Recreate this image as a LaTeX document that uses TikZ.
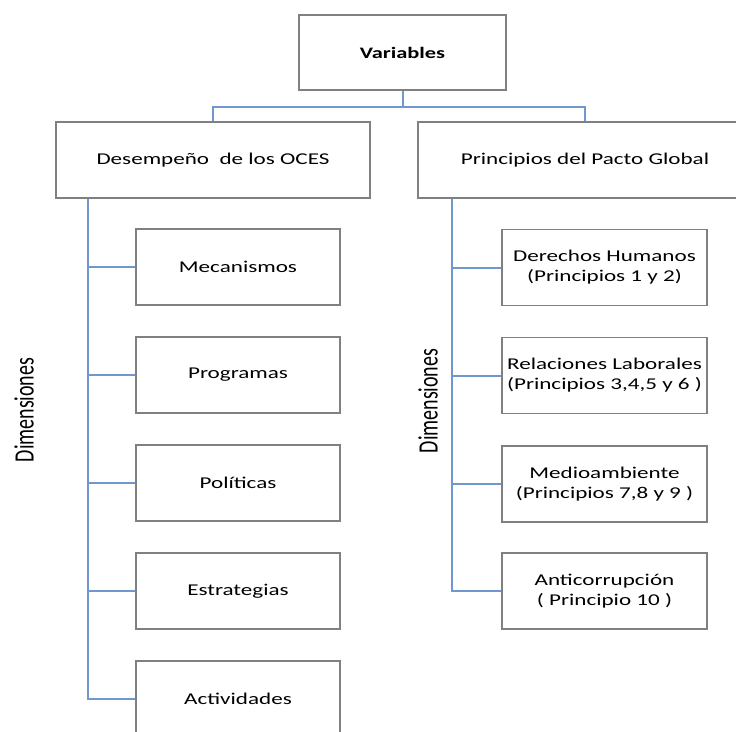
\documentclass[tikz,border=0pt]{standalone}
\usepackage{fontspec}
\setmainfont[FakeStretch=1.4]{Carlito}
\newfontfamily\dimfont{Carlito}
\usepackage{tikz}
\definecolor{lienbleu}{RGB}{112,152,206}
\definecolor{bord}{RGB}{128,128,128}

\begin{document}
\begin{tikzpicture}[x=1pt,y=-1pt]
\tikzstyle{lien}=[draw=lienbleu,line width=2pt]
\tikzset{boite/.style={draw=bord,line width=1.2pt,fill=white,align=center,
minimum height=76pt,font=\fontsize{16.5}{20}\selectfont,inner sep=0pt},
boite/.default={},
dim/.style={rotate=90,font=\dimfont\fontsize{20}{24}\selectfont}}
\useasboundingbox (0,0) rectangle (736,731);
\clip (0,0) rectangle (736,731);
\node[boite,minimum width=207pt,minimum height=75pt] (V) at (402.5,52.5) {\textbf{\fontsize{16}{20}\selectfont Variables}};
\node[boite,minimum width=314pt] (D) at (213,160) {Desempeño\ \ de los OCES};
\node[boite,minimum width=334pt] (P) at (585,160) {Principios del Pacto Global};

\node[boite,minimum width=204pt] (D1) at (238,267) {Mecanismos};
\node[boite,minimum width=204pt] (D2) at (238,375) {Programas};
\node[boite,minimum width=204pt] (D3) at (238,483) {Políticas};
\node[boite,minimum width=204pt] (D4) at (238,591) {Estrategias};
\node[boite,minimum width=204pt] (D5) at (238,699) {Actividades};

\node[boite,minimum width=205pt] (P1) at (604.5,267.5) {Derechos Humanos\\(Principios 1 y 2)};
\node[boite,minimum width=205pt] (P2) at (604.5,375.5) {Relaciones Laborales\\(Principios 3,4,5 y 6 )};
\node[boite,minimum width=205pt] (P3) at (604.5,484) {Medioambiente\\(Principios 7,8 y 9 )};
\node[boite,minimum width=205pt] (P4) at (604.5,591) {Anticorrupción\\( Principio 10 )};

\node[dim] (dimD) at (24,410) {\scalebox{1}[1.4]{Dimensiones}};
\node[dim] (dimP) at (428,401) {\scalebox{1}[1.4]{Dimensiones}};

\draw[lien] (V.south) -- ++(0,16) -| (D.north);
\draw[lien] (V.south) -- ++(0,16) -| (P.north);

\coordinate (bD) at ([xshift=-125pt]D.south);
\coordinate (bP) at ([xshift=-133pt]P.south);
\draw[lien] (bD) |- (D5.west);
\foreach \i in {1,2,3,4} \draw[lien] (bD |- D\i.west) -- (D\i.west);
\draw[lien] (bP) |- (P4.west);
\foreach \i in {1,2,3} \draw[lien] (bP |- P\i.west) -- (P\i.west);

\end{tikzpicture}
\end{document}
